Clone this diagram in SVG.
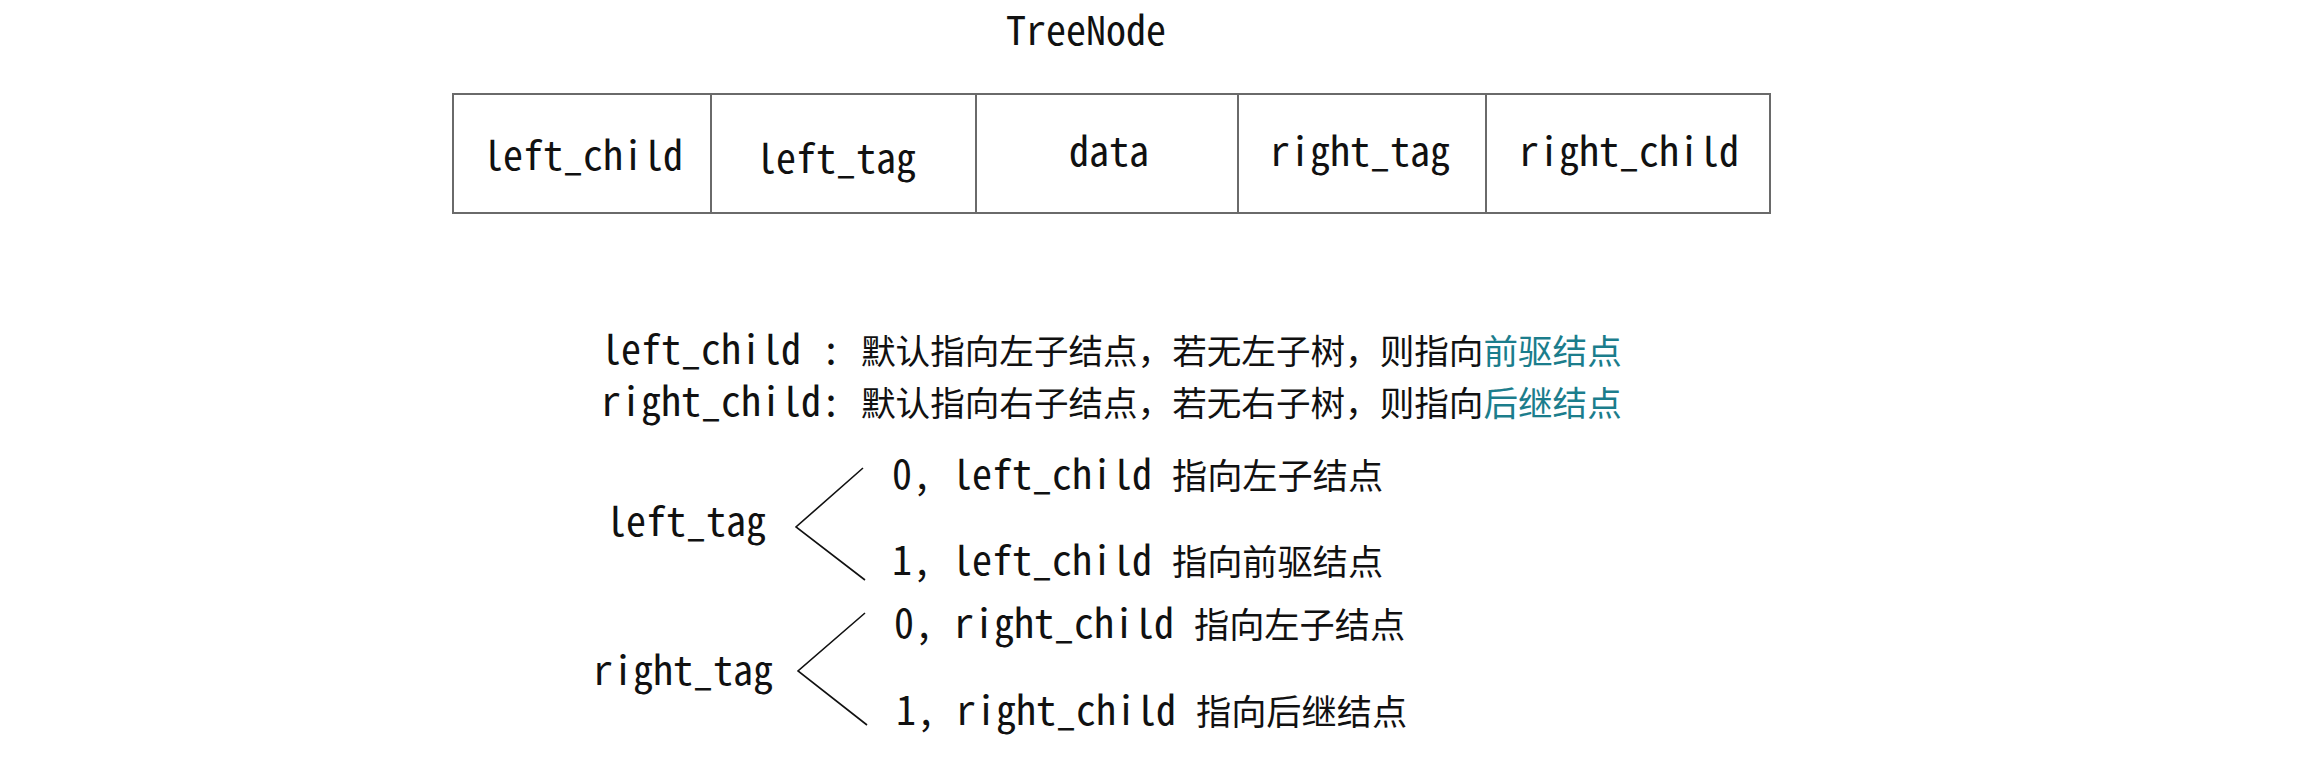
<svg xmlns="http://www.w3.org/2000/svg" width="2298" height="761" viewBox="0 0 2298 761">
<style>
text{font-family:"Noto Sans Mono CJK SC","DejaVu Sans Mono","Noto Sans CJK SC",monospace;font-size:40px;fill:#111}
.cjk{font-family:"Noto Sans CJK SC",sans-serif;font-size:34.6px}
.cjk2{font-family:"Noto Sans CJK SC",sans-serif;font-size:35.2px}
.hl{fill:#1b7d8c}
.cell{fill:#fff;stroke:#6a6a6a;stroke-width:2}
.br{stroke:#111;stroke-width:1.6;fill:none}
</style>
<rect width="2298" height="761" fill="#fff"/>
<g id="title"><text x="1006" y="45">TreeNode</text></g>
<g id="treenode">
<g id="cell-left_child"><rect class="cell" x="453" y="94" width="258" height="119"/><text x="483" y="170">left_child</text></g>
<g id="cell-left_tag"><rect class="cell" x="711" y="94" width="265" height="119"/><text x="756" y="173">left_tag</text></g>
<g id="cell-data"><rect class="cell" x="976" y="94" width="262" height="119"/><text x="1069" y="166">data</text></g>
<g id="cell-right_tag"><rect class="cell" x="1238" y="94" width="248" height="119"/><text x="1270" y="166">right_tag</text></g>
<g id="cell-right_child"><rect class="cell" x="1486" y="94" width="284" height="119"/><text x="1519" y="166">right_child</text></g>
</g>
<g id="desc-left_child"><text x="601" y="364">left_child : <tspan class="cjk">默认指向左子结点，若无左子树，则指向</tspan><tspan class="cjk hl">前驱结点</tspan></text></g>
<g id="desc-right_child"><text x="601" y="416">right_child: <tspan class="cjk">默认指向右子结点，若无右子树，则指向</tspan><tspan class="cjk hl">后继结点</tspan></text></g>
<g id="node-left_tag"><text x="606" y="536">left_tag</text></g>
<g id="node-left_tag_0"><text x="892" y="489">0, left_child <tspan class="cjk2">指向左子结点</tspan></text></g>
<g id="node-left_tag_1"><text x="892" y="575">1, left_child <tspan class="cjk2">指向前驱结点</tspan></text></g>
<g id="node-right_tag"><text x="593" y="685">right_tag</text></g>
<g id="node-right_tag_0"><text x="894" y="638">0, right_child <tspan class="cjk2">指向左子结点</tspan></text></g>
<g id="node-right_tag_1"><text x="896" y="725">1, right_child <tspan class="cjk2">指向后继结点</tspan></text></g>
<g id="connectors">
<polyline class="br" points="863,468 796,527 865,580"/>
<polyline class="br" points="865,613 798,671 867,725"/>
</g>
</svg>
